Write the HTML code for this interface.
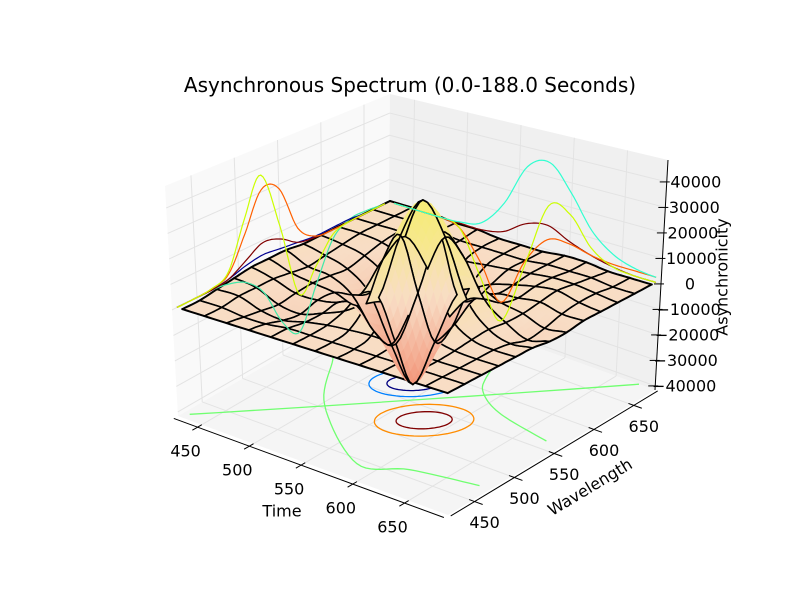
<!DOCTYPE html>
<html><head><meta charset="utf-8">
<style>
html,body{margin:0;padding:0;background:#fff;}
svg{display:block;font-family:"DejaVu Sans","Liberation Sans",sans-serif;}
</style></head>
<body>
<svg id="chart" width="800" height="600" viewBox="0 0 800 600"></svg>
<script>
// ---------- data ----------
const timeTicks=[450,500,550,600,650];
const waveTicks=[450,500,550,600,650];
const zTicks=[-40000,-30000,-20000,-10000,0,10000,20000,30000,40000];
const zTickLabels=["\u221240000","\u221230000","\u221220000","\u221210000","0","10000","20000","30000","40000"];
const tMin=427,tMax=688,wMin=420,wMax=680,zMin=-41600,zMax=48600;
const surfTimeStart=432,surfTimeEnd=683,surfWaveStart=426,surfWaveEnd=675;
// surface grid (thousands), rows = time index, cols = wavelength index
const zGrid=[
[0,0,1,2,3,3,3,2,2,2,2,2,2],
[0,0,1,1,1,0,-1,0,1,2,2,2,2],
[0,-1,-2,-3,-2,-1.4,-2,-2.8,-1,1,2,2,2],
[0,-1,-3,-4,-2,-2.5,-7,-10,-7,-2.5,0,1,1],
[0,0,-1,-1,0,-5,-19,-28,-20,-7,-1,0,1],
[0,0,0.5,2.6,6,1,-21,-41,-28,-10,-2,0,0],
[0,0,1.3,8,22,28,2,-21,-19,-7,-1,0,0],
[0,0,1.8,11,33,44,28,0.5,-5,-2.5,0,0,0],
[0,0,1.3,8,23,32,22,5.6,0,0,1,1,1],
[0,0,0.5,2.6,7.4,10.5,7.4,2.6,1,2,2,1,1],
[0,0,0,0.5,1.3,1.8,1,1,2,3,2,1,0],
[0,0,0,0,0,-1,-3,-2,0,1,1,0,0],
[0,0,0,0,0,0,-1,-1,0,0,0,0,0]];
// left wall profiles (thousands) vs wavelength index
const leftYellow=[0,0,0.5,4,22,37,12,-20,-12,-2,0,0,0];
const leftOrange=[0,0,0.5,3,16,31,28,8,1,0,0,0,0];
const leftDarkRed=[0,0,0,1,5,9,7,2,0.5,0,0,0,0];
const leftNavy=[0,0,0,1,3,4,3,2,1,1,1,0,0];
const leftTeal=[0,0,0,-1,-4,-12,-28,-36,-20,-4,1,1,0];
// right wall profiles vs time index
const rightCyan=[0,0,0,0.5,3,14,32,36,26,13,6,3,2];
const rightYellow=[0,0,0,-2,-20,-36,-10,18,17,6,1,0,0];
const rightOrange=[0,0,0,-2,-14,-28,-8,4,5,3,2,2,2];
const rightDarkRed=[0,0,0,0,0,2,8,10,6,3,1,0,0];
// floor contours: center (u,v) fractions, semi-axes along (1,1) and (1,-1)
const contourColors=["#0080ff","#000080","#ff8c00","#800000"];
const contourCU=[0.41,0.41,0.58,0.58];
const contourCV=[0.60,0.60,0.43,0.43];
const contourA=[0.133,0.08,0.147,0.083];
const contourB=[0.088,0.05,0.10,0.054];
// green floor lines (u,v fractions)
const greenLineU=[0.02,0.94], greenLineV=[0.03,1.0];
const greenAU=[0.074,0.133,0.293,0.593,0.738,0.96], greenAV=[0.644,0.567,0.323,0.09,0.156,0.204];
const greenBU=[0.49,0.555,0.615,0.737,0.944], greenBV=[0.964,0.763,0.671,0.599,0.548];

// ---------- projection ----------
const L=[178,416],F=[448,515],R=[655,390],K=[388,294];
const HL=230,HF=255,HR=230,HK=200;
const DL=-13,DF=0,DR=13,DK=2;
function bil(a,b,c,d,u,v){return a*(1-u)*(1-v)+b*u*(1-v)+c*u*v+d*(1-u)*v;}
function proj(u,v,s){
  const bx=bil(L[0],F[0],R[0],K[0],u,v), by=bil(L[1],F[1],R[1],K[1],u,v);
  const h=bil(HL,HF,HR,HK,u,v), dx=bil(DL,DF,DR,DK,u,v);
  return [bx+s*dx, by-s*h];
}
const xu=t=>(t-tMin)/(tMax-tMin), yv=w=>(w-wMin)/(wMax-wMin), zs=z=>(z-zMin)/(zMax-zMin);
const svg=document.getElementById('chart');
const NS='http://www.w3.org/2000/svg';
function mk(tag,attrs,parent){const e=document.createElementNS(NS,tag);for(const k in attrs)e.setAttribute(k,attrs[k]);(parent||svg).appendChild(e);return e;}
function pts(a){return a.map(p=>p[0].toFixed(1)+','+p[1].toFixed(1)).join(' ');}

// ---------- panes ----------
const panes=mk('g',{});


const floor=mk('polygon',{points:pts([proj(0,0,0),proj(1,0,0),proj(1,1,0),proj(0,1,0)]),fill:'#f5f5f5'},panes);

const lw=mk('polygon',{points:pts([proj(0,0,0),proj(0,1,0),proj(0,1,1),proj(0,0,1)]),fill:'#f9f9f9'},panes);

const rw=mk('polygon',{points:pts([proj(0,1,0),proj(1,1,0),proj(1,1,1),proj(0,1,1)]),fill:'#f0f0f0'},panes);

const grid=mk('g',{stroke:'#e3e3e3','stroke-width':1,fill:'none'});

function line(a,b,attrs,parent){return mk('line',Object.assign({x1:a[0],y1:a[1],x2:b[0],y2:b[1]},attrs||{}),parent);}
timeTicks.forEach(t=>{const u=xu(t);line(proj(u,0,0),proj(u,1,0),{},grid);line(proj(u,1,0),proj(u,1,1),{},grid);});
waveTicks.forEach(w=>{const v=yv(w);line(proj(0,v,0),proj(1,v,0),{},grid);line(proj(0,v,0),proj(0,v,1),{},grid);});
zTicks.forEach(z=>{const s=zs(z);line(proj(0,0,s),proj(0,1,s),{},grid);line(proj(0,1,s),proj(1,1,s),{},grid);});

// ---------- floor contours ----------
const fl=mk('g',{fill:'none','stroke-width':1.3});

for(let k=0;k<contourColors.length;k++){
  const p=[];
  for(let a=0;a<=64;a++){const th=a/64*2*Math.PI;const ca=Math.cos(th)*contourA[k],sb=Math.sin(th)*contourB[k];
    p.push(proj(contourCU[k]+(ca+sb)/Math.SQRT2,contourCV[k]+(ca-sb)/Math.SQRT2,0));}
  const e=mk('polyline',{points:pts(p),stroke:contourColors[k]},fl);
  
  
}
function cr(p0,p1,p2,p3,t){return 0.5*((2*p1)+(-p0+p2)*t+(2*p0-5*p1+4*p2-p3)*t*t+(-p0+3*p1-3*p2+p3)*t*t*t);}
function smoothUV(us,vs){const out=[];const n=us.length;
  for(let i=0;i<n-1;i++){for(let k=0;k<10;k++){const t=k/10;
    const g=(arr,j)=>arr[Math.max(0,Math.min(n-1,j))];
    out.push(proj(cr(g(us,i-1),g(us,i),g(us,i+1),g(us,i+2),t),cr(g(vs,i-1),g(vs,i),g(vs,i+1),g(vs,i+2),t),0));}}
  out.push(proj(us[n-1],vs[n-1],0));return out;}
[[greenLineU,greenLineV],[greenAU,greenAV],[greenBU,greenBV]].forEach((g,k)=>{
  const e=mk('polyline',{points:pts(smoothUV(g[0],g[1])),stroke:'#70ff70'},fl);
  
  
});

// ---------- surface ----------
function G(i,j){i=Math.max(0,Math.min(12,i));j=Math.max(0,Math.min(12,j));return zGrid[i][j];}
function Zs(fi,fj){let i0=Math.min(11,Math.floor(fi)),j0=Math.min(11,Math.floor(fj));const ti=fi-i0,tj=fj-j0;
  const r=[];for(let a=-1;a<=2;a++){r.push(cr(G(i0+a,j0-1),G(i0+a,j0),G(i0+a,j0+1),G(i0+a,j0+2),tj));}
  return cr(r[0],r[1],r[2],r[3],ti);}
const SUB=5,N=12*SUB;
const P=[],ZV=[];
const uS=xu(surfTimeStart),uE=xu(surfTimeEnd),vS=yv(surfWaveStart),vE=yv(surfWaveEnd);
for(let a=0;a<=N;a++){P.push([]);ZV.push([]);for(let b=0;b<=N;b++){
  const z=Zs(a/SUB,b/SUB)*1000;ZV[a].push(z);
  const u=uS+(uE-uS)*a/N,v=vS+(vE-vS)*b/N;P[a].push([proj(u,v,zs(z)),u,v,zs(z)]);}}
function col(z){z/=1000;let c0=[248,221,197],c1;let t;
  if(z>=0){c1=[246,236,118];t=Math.min(1,z/44);}else{c1=[242,146,118];t=Math.min(1,-z/41);}
  return 'rgb('+c0.map((c,k)=>Math.round(c+(c1[k]-c)*t)).join(',')+')';}
function depth(u,v,s){return 0.866*(0.5*u-0.866*v)+0.5*s;}
const cells=[];
for(let ci=0;ci<12;ci++)for(let cj=0;cj<12;cj++){
  let zmin=1e9,zmax=-1e9,us=0,vs=0,ss=0,n=0;const subs=[];
  for(let a=ci*SUB;a<(ci+1)*SUB;a++)for(let b=cj*SUB;b<(cj+1)*SUB;b++){
    const q=[P[a][b],P[a+1][b],P[a+1][b+1],P[a][b+1]];
    const zz=(ZV[a][b]+ZV[a+1][b+1]+ZV[a+1][b]+ZV[a][b+1])/4;
    const u=(q[0][1]+q[2][1])/2,v=(q[0][2]+q[2][2])/2,s=(q[0][3]+q[1][3]+q[2][3]+q[3][3])/4;
    subs.push({q,z:zz,d:depth(u,v,s)});
    zmin=Math.min(zmin,zz);zmax=Math.max(zmax,zz);us+=u;vs+=v;ss+=s;n++;}
  subs.sort((x,y)=>x.d-y.d);
  const key=depth(us/n,vs/n,ss/n)+(zmin<0?4.0*(-zmin):0)/90000+(zmax>0?2.0*zmax:0)/90000;
  cells.push({ci,cj,subs,key});
}
cells.sort((x,y)=>x.key-y.key);
const surf=mk('g',{});

function edgePath(a0,b0,da,db){const p=[];for(let k=0;k<=SUB;k++)p.push(P[a0+da*k][b0+db*k][0]);return p;}
cells.forEach(c=>{
  c.subs.forEach(p=>{const col_=col(p.z);
    mk('polygon',{points:pts(p.q.map(e=>e[0])),fill:col_,stroke:col_,'stroke-width':0.6},surf);});
  const a0=c.ci*SUB,b0=c.cj*SUB;
  const edges=[[edgePath(a0,b0,0,1),c.ci===0],[edgePath(a0+SUB,b0,0,1),c.ci===11],
               [edgePath(a0,b0,1,0),c.cj===0],[edgePath(a0,b0+SUB,1,0),c.cj===11]];
  edges.forEach(e=>mk('polyline',{points:pts(e[0]),fill:'none',stroke:'#000','stroke-width':e[1]?2:1.6,'stroke-linejoin':'round','stroke-linecap':'round'},surf));
});

// ---------- wall profiles ----------
const wall=mk('g',{fill:'none','stroke-width':1.2});

function profile(arr,isLeft){const out=[];const n=arr.length;
  for(let i=0;i<n-1;i++)for(let k=0;k<8;k++){const t=k/8;const g=j=>arr[Math.max(0,Math.min(n-1,j))];
    const z=cr(g(i-1),g(i),g(i+1),g(i+2),t)*1000;const f=(i+t)/(n-1);
    out.push(isLeft?proj(0,vS+(vE-vS)*f,zs(z)):proj(uS+(uE-uS)*f,1,zs(z)));}
  const z=arr[n-1]*1000;out.push(isLeft?proj(0,vE,zs(z)):proj(uE,1,zs(z)));return out;}
[[leftTeal,'#40e8a8',1],[leftNavy,'#000090',1],[leftDarkRed,'#800000',1],[leftOrange,'#ff6000',1],[leftYellow,'#ccff00',1],
 [rightDarkRed,'#800000',0],[rightOrange,'#ff6000',0],[rightYellow,'#ccff00',0],[rightCyan,'#30ffd0',0]].forEach((c,k)=>{
  const e=mk('polyline',{points:pts(profile(c[0],c[2])),stroke:c[1]},wall);
  
  
});

// ---------- axes ----------
const ax=mk('g',{stroke:'#000','stroke-width':1,fill:'none'});

line(proj(0,-0.02,0),proj(1,-0.02,0),{},ax);
line(proj(1.01,0,0),proj(1.01,1,0),{},ax);
line(proj(1,1,0),proj(1,1,1),{},ax);
const lab=mk('g',{'font-size':16,fill:'#000','text-anchor':'middle'});

function txt(x,y,s,name,extra){const e=mk('text',Object.assign({x:x.toFixed(1),y:y.toFixed(1),'dominant-baseline':'central'},extra||{}),lab);e.textContent=s;
  return e;}
timeTicks.forEach(t=>{const u=xu(t);const a=proj(u,-0.02,0);line(a,proj(u,-0.045,0),{},ax);line(a,proj(u,0.0,0),{},ax);
  txt(a[0]-12,a[1]+24,String(t),'time-tick-'+t);});
waveTicks.forEach(w=>{const v=yv(w);const a=proj(1.01,v,0);line(a,proj(1.04,v,0),{},ax);line(a,proj(0.99,v,0),{},ax);
  txt(a[0]+10,a[1]+21,String(w),'wavelength-tick-'+w);});
zTicks.forEach((z,k)=>{const a=proj(1,1,zs(z));line([a[0]-7,a[1]],[a[0]+3,a[1]],{},ax);
  txt(a[0]+29,a[1],zTickLabels[k],'z-tick-'+k);});
const t1=mk('text',{x:410,y:85,'font-size':20,'text-anchor':'middle','dominant-baseline':'central',fill:'#000'});
t1.textContent='Asynchronous Spectrum (0.0-188.0 Seconds)';

const xl=mk('text',{x:282,y:511,'font-size':16,'text-anchor':'middle','dominant-baseline':'central',fill:'#000'});
xl.textContent='Time';
const yl=mk('text',{x:0,y:0,'font-size':16,'text-anchor':'middle','dominant-baseline':'central',fill:'#000',transform:'translate(590,487) rotate(-31)'});
yl.textContent='Wavelength';
const zl=mk('text',{x:0,y:0,'font-size':16,'text-anchor':'middle','dominant-baseline':'central',fill:'#000',transform:'translate(722,277) rotate(-90)'});
zl.textContent='Asynchronicity';
</script>
</body></html>
